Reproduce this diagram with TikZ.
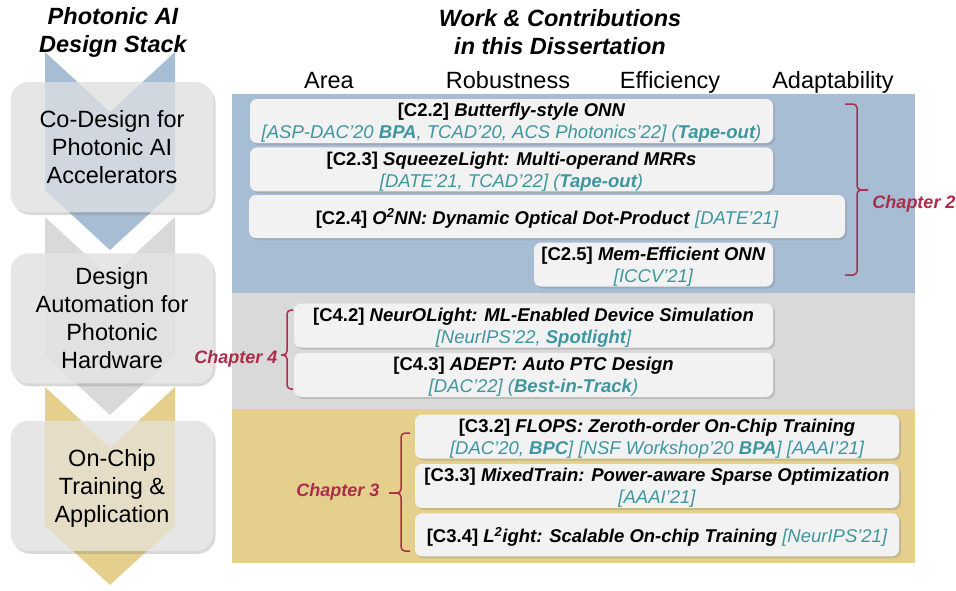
\documentclass[tikz,border=0pt]{standalone}
\usepackage{fontspec}
\setmainfont{Liberation Sans}
\usetikzlibrary{positioning,shadows}

\definecolor{bandblue}{RGB}{167,189,211}
\definecolor{bandgray}{RGB}{217,217,217}
\definecolor{bandyellow}{RGB}{228,207,140}
\definecolor{stackgray}{RGB}{230,230,230}
\definecolor{workgray}{RGB}{242,242,242}
\definecolor{chapred}{RGB}{172,45,75}
\definecolor{citeteal}{RGB}{62,150,158}

\newcommand{\work}[2]{\textbf{[#1] \textit{#2}}}
\newcommand{\venue}[1]{{\color{citeteal}\itshape #1}}

\begin{document}
\begin{tikzpicture}[x=1pt, y=-1pt,
  stack/.style 2 args={fill=stackgray, rounded corners=18pt, minimum width=203pt, minimum height=130pt,
    align=center, text depth=0pt, font=\fontsize{23.5}{28}\selectfont,
    drop shadow={shadow xshift=2pt, shadow yshift=-3pt, opacity=0.3},
    path picture={\fill[#1, opacity=0.35, sharp corners] ([xshift=-67pt, yshift=#2]path picture bounding box.north)
      -- ++(65,60) -- ++(65,-60) -- ++(0,138) -- ++(-65,60) -- ++(-65,-60) -- cycle;}},
  work/.style={fill=workgray, rounded corners=7pt, minimum height=44pt, align=center, inner sep=0pt,
    text depth=0pt, font=\fontsize{18.5}{22}\selectfont,
    drop shadow={shadow xshift=2pt, shadow yshift=-2pt, opacity=0.3}},
  title/.style={align=center, font=\fontsize{23.5}{28}\selectfont\bfseries\itshape},
  head/.style={anchor=base, font=\fontsize{23.5}{28}\selectfont},
  chap/.style={anchor=base, text=chapred, font=\fontsize{18}{22}\selectfont\bfseries\itshape},
  brace/.style={draw=chapred, line width=1.5pt, rounded corners=4pt}]
\useasboundingbox (0,0) rectangle (956,590);

% design stack arrows
\foreach \t/\c in {52/bandblue, 217/bandgray, 387/bandyellow}
  \fill[\c] (45,\t) -- (110,\t+60) -- (175,\t) -- (175,\t+138) -- (110,\t+198) -- (45,\t+138) -- cycle;

% bands
\fill[bandblue] (232,94) rectangle (915,293);
\fill[bandgray] (232,293) rectangle (915,409);
\fill[bandyellow] (232,409) rectangle (915,563);

\node[title] (stacktitle) at (113,32) {Photonic AI\\Design Stack};
\node[title] (worktitle) at (560,32) {Work \& Contributions\\in this Dissertation};

\foreach \x/\h in {329/Area, 508/Robustness, 670/Efficiency, 833/Adaptability}
  \node[head] (h\h) at (\x,88) {\h};

\node[stack={bandblue}{30pt}] (codesign) at (112,147) {Co-Design for\\Photonic AI\\Accelerators};
\node[stack={bandgray}{36pt}, below=41pt of codesign] (autom) {Design\\Automation for\\Photonic\\Hardware};
\node[stack={bandyellow}{33pt}, below=37pt of autom] (train) {On-Chip\\Training \&\\Application};

% chapter 2
\node[work, minimum width=523pt] (c22) at (511.5,121)
  {\work{C2.2}{Butterfly-style ONN}\\
   \venue{[ASP-DAC'20 \textbf{BPA}, TCAD'20, ACS Photonics'22] (\textbf{Tape-out})}};
\node[work, minimum width=523pt, below=4pt of c22] (c23)
  {\work{C2.3}{SqueezeLight: Multi-operand MRRs}\\
   \venue{[DATE'21, TCAD'22] (\textbf{Tape-out})}};
\node[work, minimum width=596pt, minimum height=43pt] (c24) at (547,216.5)
  {\work{C2.4}{O\textsuperscript{2}NN: Dynamic Optical Dot-Product} \venue{[DATE'21]}};
\node[work, minimum width=239pt] (c25) at (653.5,264.5)
  {\work{C2.5}{Mem-Efficient ONN}\\ \venue{[ICCV'21]}};

% chapter 4
\node[work, minimum width=479pt] (c42) at (533.5,325.5)
  {\work{C4.2}{NeurOLight: ML-Enabled Device Simulation}\\
   \venue{[NeurIPS'22, \textbf{Spotlight}]}};
\node[work, minimum width=479pt, below=5pt of c42] (c43)
  {\work{C4.3}{ADEPT: Auto PTC Design}\\
   \venue{[DAC'22] (\textbf{Best-in-Track})}};

% chapter 3
\node[work, minimum width=484pt] (c32) at (657,436.5)
  {\work{C3.2}{FLOPS: Zeroth-order On-Chip Training}\\
   \venue{[DAC'20, \textbf{BPC}] [NSF Workshop'20 \textbf{BPA}] [AAAI'21]}};
\node[work, minimum width=484pt, below=5pt of c32] (c33)
  {\work{C3.3}{MixedTrain: Power-aware Sparse Optimization}\\
   \venue{[AAAI'21]}};
\node[work, minimum width=484pt, minimum height=43pt, below=5pt of c33] (c34)
  {\work{C3.4}{L\textsuperscript{2}ight: Scalable On-chip Training} \venue{[NeurIPS'21]}};

% braces
\draw[brace] (845,104) -- (857,104) -- (857,190) -- (868,190);
\draw[brace] (868,190) -- (857,190) -- (857,275) -- (845,275);
\node[chap] (ch2) at (914,208) {Chapter 2};

\draw[brace] (293,310) -- (287,310) -- (287,355) -- (281,355);
\draw[brace] (281,355) -- (287,355) -- (287,389) -- (293,389);
\node[chap] (ch4) at (236,363) {Chapter 4};

\draw[brace] (410,433) -- (401,433) -- (401,493) -- (389,493);
\draw[brace] (389,493) -- (401,493) -- (401,551) -- (410,551);
\node[chap] (ch3) at (338,496) {Chapter 3};
\end{tikzpicture}
\end{document}
